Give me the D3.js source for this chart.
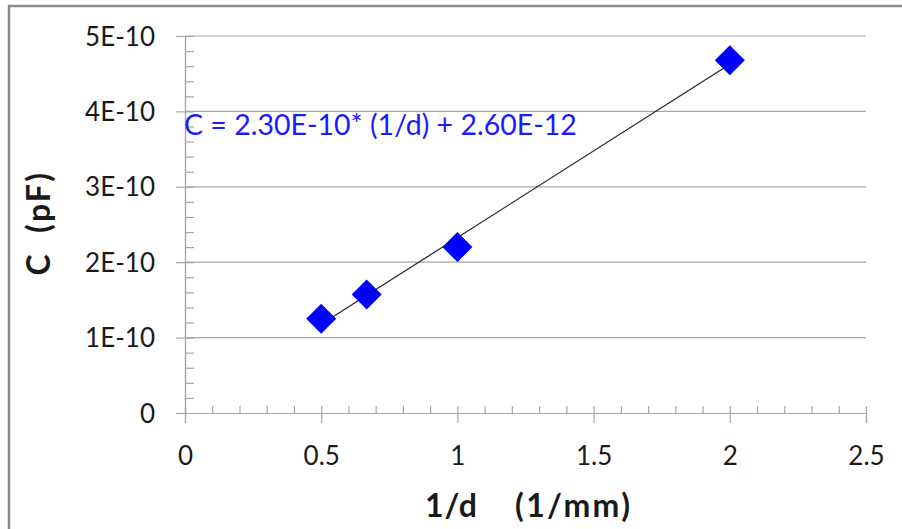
<!DOCTYPE html>
<html>
<head>
<meta charset="utf-8">
<script src="https://cdn.jsdelivr.net/npm/d3@7"></script>
<style>
  body { margin: 0; background: #fff; }
  svg { display: block; font-family: Lato, "Open Sans", sans-serif; }
</style>
</head>
<body>
<svg id="chart" width="902" height="529"></svg>
<script>
// data
var invD = [0.5, 0.667, 1, 2]
var cap = [1.25e-10, 1.57e-10, 2.2e-10, 4.68e-10]
var slope = 2.30e-10, intercept = 2.60e-12
var xTicks = [0, 0.5, 1, 1.5, 2, 2.5]
var yTicks = [0, 1e-10, 2e-10, 3e-10, 4e-10, 5e-10]
var yTickLabels = ["0", "1E-10", "2E-10", "3E-10", "4E-10", "5E-10"]
var eqText = "C = 2.30E-10* (1/d) + 2.60E-12"

var svg = d3.select("#chart")
var x = d3.scaleLinear().domain([0, 2.5]).range([185, 866])
var y = d3.scaleLinear().domain([0, 5e-10]).range([413, 36])
var axisCol = "#a6a6a6"

// outer frame (runs off the right and bottom edge)
svg.append("rect")
    .attr("x", 9).attr("y", 6).attr("width", 920).attr("height", 560)
    .style("fill", "none").style("stroke", "#8c8c8c").style("stroke-width", 2.5)

// gridlines
svg.append("g").selectAll("line").data(yTicks.slice(1)).join("line")
    .attr("x1", x(0)).attr("x2", x(2.5))
    .attr("y1", d => y(d)).attr("y2", d => y(d))
    .style("stroke", axisCol).style("stroke-width", 1.2)

// minor ticks, inside
var xMinor = d3.range(1, 25).map(i => i / 10)
var yMinor = d3.range(1, 25).map(i => i * 0.2e-10)
svg.append("g").attr("transform", "translate(0," + y(0) + ")")
    .call(d3.axisBottom(x).tickValues(xMinor).tickSize(-7).tickFormat(""))
svg.append("g").attr("transform", "translate(" + x(0) + ",0)")
    .call(d3.axisLeft(y).tickValues(yMinor).tickSize(-9).tickFormat(""))

// major ticks, outside, with labels
var xAx = svg.append("g").attr("transform", "translate(0," + y(0) + ")")
    .call(d3.axisBottom(x).tickValues(xTicks).tickSize(10).tickPadding(24).tickFormat(d3.format("")))
var yAx = svg.append("g").attr("transform", "translate(" + x(0) + ",0)")
    .call(d3.axisLeft(y).tickValues(yTicks).tickSize(9).tickPadding(21).tickFormat((d, i) => yTickLabels[i]))

svg.selectAll(".domain").style("stroke", axisCol).style("stroke-width", 1.2)
svg.selectAll(".tick line").style("stroke", axisCol).style("stroke-width", 1.2)
svg.selectAll(".tick text").style("font-family", "Lato, sans-serif").style("font-size", "26px").style("fill", "#1a1a1a")
yAx.selectAll(".tick text").attr("dy", "0.35em")

// trend line
svg.append("line")
    .attr("x1", x(0.5)).attr("y1", y(slope * 0.5 + intercept))
    .attr("x2", x(2)).attr("y2", y(slope * 2 + intercept))
    .style("stroke", "#222").style("stroke-width", 1.2)

// diamond markers
svg.append("g").selectAll("path").data(invD).join("path")
    .attr("transform", (d, i) => "translate(" + x(d) + "," + y(cap[i]) + ")")
    .attr("d", "M0,-15L15,0L0,15L-15,0Z")
    .style("fill", "#0000ff")

// equation
svg.append("text")
    .attr("x", 184).attr("y", 135)
    .style("font-size", "28.5px").style("fill", "#1a1aff")
    .text(eqText)

// axis titles
var xt = svg.append("text").attr("y", 517)
    .style("font-size", "32px").style("font-weight", "bold").style("fill", "#1a1a1a")
xt.append("tspan").attr("x", 425).attr("textLength", 52).attr("lengthAdjust", "spacing").text("1/d")
xt.append("tspan").attr("x", 515).attr("textLength", 115).attr("lengthAdjust", "spacing").text("(1/mm)")

svg.append("text")
    .attr("transform", "translate(50,265) rotate(-90)").attr("text-anchor", "middle")
    .style("font-size", "32px").style("font-weight", "bold").style("fill", "#1a1a1a")
    .text("C")
svg.append("text")
    .attr("transform", "translate(50,233) rotate(-90)")
    .attr("textLength", 60).attr("lengthAdjust", "spacing")
    .style("font-size", "32px").style("font-weight", "bold").style("fill", "#1a1a1a")
    .text("(pF)")
</script>
</body>
</html>
